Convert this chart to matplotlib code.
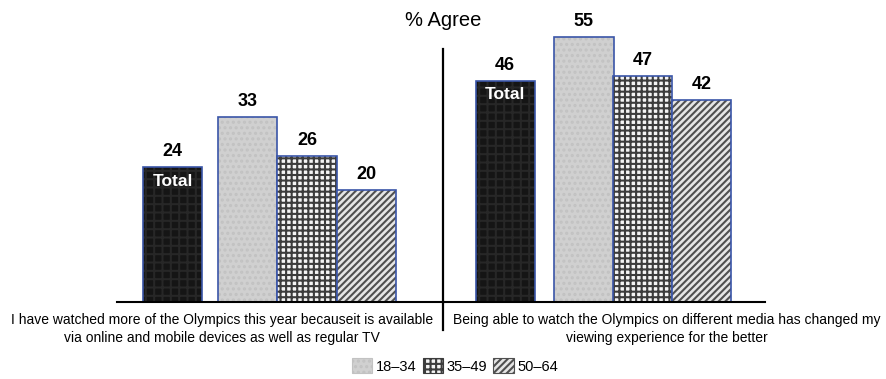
import matplotlib
matplotlib.use("Agg")
import matplotlib.pyplot as plt
from matplotlib.patches import Patch
from matplotlib.lines import Line2D

plt.rcParams['font.family'] = ['Liberation Sans', 'DejaVu Sans']
plt.rcParams['hatch.linewidth'] = 1.5

# data
statements = [
    "I have watched more of the Olympics this year becauseit is available\nvia online and mobile devices as well as regular TV",
    "Being able to watch the Olympics on different media has changed my\nviewing experience for the better",
]
groups = ["Total", "18\u201334", "35\u201349", "50\u201364"]
agree_left = [24, 33, 26, 20]
agree_right = [46, 55, 47, 42]

# fill styles per group: face, hatch, hatch colour
styles = [
    ("#151515", "++", "#272727"),
    ("#d0d0d0", "...", "#c2c2c2"),
    ("#f4f4f4", "+++", "#3c3c3c"),
    ("#e6e6e6", "/////", "#505050"),
]
outline = "#3a55a8"

fig = plt.figure(figsize=(8.87, 3.79), dpi=100)
W, H = 887, 379


def px_axes(x0, x1, y_top, y_base):
    return fig.add_axes([x0 / W, 1 - y_base / H, (x1 - x0) / W, (y_base - y_top) / H])


ax_l = px_axes(117, 444, 30, 302)
ax_r = px_axes(444, 765, 30, 302)

panels = [
    (ax_l, agree_left, [0.93, 2.18, 3.17, 4.16], 327 / 60, 48.5),
    (ax_r, agree_right, [1.02, 2.33, 3.31, 4.29], 321 / 60, 56.5),
]

for ax, vals, xs, xmax, ymax in panels:
    for x, v, (fc, hatch, hc) in zip(xs, vals, styles):
        ax.bar(x, v, width=0.99, color=fc, hatch=hatch, edgecolor=hc, linewidth=0)
        ax.bar(x, v, width=0.99, fill=False, edgecolor=outline, linewidth=1.2)
        ax.annotate(str(v), (x, v), xytext=(0, 5), textcoords="offset points",
                    ha="center", va="bottom", fontsize=13, fontweight="bold")
    ax.annotate("Total", (xs[0], vals[0]), xytext=(0, -10), textcoords="offset points",
                ha="center", va="center", fontsize=12.5, fontweight="bold", color="white")
    ax.set_xlim(0, xmax)
    ax.set_ylim(0, ymax)
    for s in ["top", "left", "right"]:
        ax.spines[s].set_visible(False)
    ax.spines["bottom"].set_linewidth(1.5)
    ax.set_xticks([])
    ax.set_yticks([])
    ax.patch.set_alpha(0)

# divider between the two statements
fig.add_artist(Line2D([443 / W, 443 / W], [1 - 49 / H, 1 - 330 / H],
                      color="black", linewidth=1.6))

fig.text(443 / W, 1 - 20 / H, "% Agree", ha="center", va="center", fontsize=14.5)

fig.text(222 / W, 1 - 329 / H, statements[0], ha="center", va="center",
         fontsize=10, linespacing=1.3)
fig.text(667 / W, 1 - 329 / H, statements[1], ha="center", va="center",
         fontsize=10, linespacing=1.3)

handles = [Patch(facecolor=fc, hatch=h, edgecolor=hc, linewidth=0.8)
           for fc, h, hc in styles[1:]]
fig.legend(handles, groups[1:], loc="center", bbox_to_anchor=(455 / W, 1 - 366 / H),
           ncol=3, frameon=False, fontsize=10.5, handlelength=1.4, handleheight=1.2,
           handletextpad=0.25, columnspacing=0.4)

fig.savefig("out.png", dpi=100)
